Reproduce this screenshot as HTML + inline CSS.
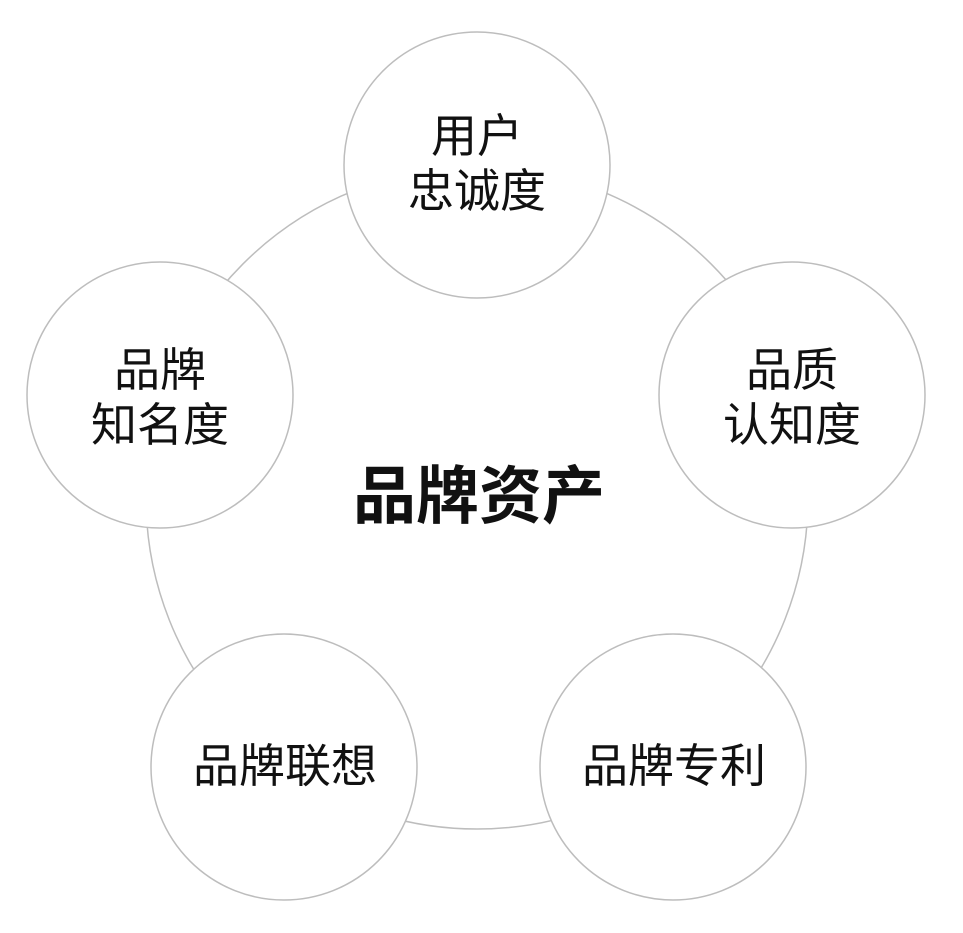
<!DOCTYPE html>
<html><head><meta charset="utf-8"><style>
html,body{margin:0;padding:0;background:#fff;}
body{width:963px;height:928px;overflow:hidden;}
text{font-family:"Liberation Sans","Noto Sans CJK SC",sans-serif;fill:#111;text-anchor:middle;}
</style></head><body>
<svg width="963" height="928" viewBox="0 0 963 928">
<circle cx="477" cy="498" r="331" fill="none" stroke="#bdbdbd" stroke-width="1.5"/>
<g fill="#fff" stroke="#bdbdbd" stroke-width="1.5">
<circle cx="477" cy="165" r="133"/>
<circle cx="160" cy="395" r="133"/>
<circle cx="792" cy="395" r="133"/>
<circle cx="284" cy="767" r="133"/>
<circle cx="673" cy="767" r="133"/>
</g>
<text x="479" y="518" font-size="63" font-weight="bold">品牌资产</text>
<g font-size="46" font-weight="normal">
<text x="477" y="152">用户</text>
<text x="477" y="207">忠诚度</text>
<text x="160" y="386">品牌</text>
<text x="160" y="441">知名度</text>
<text x="792" y="386">品质</text>
<text x="792" y="441">认知度</text>
<text x="285" y="782">品牌联想</text>
<text x="674" y="782">品牌专利</text>
</g>
</svg>
</body></html>
